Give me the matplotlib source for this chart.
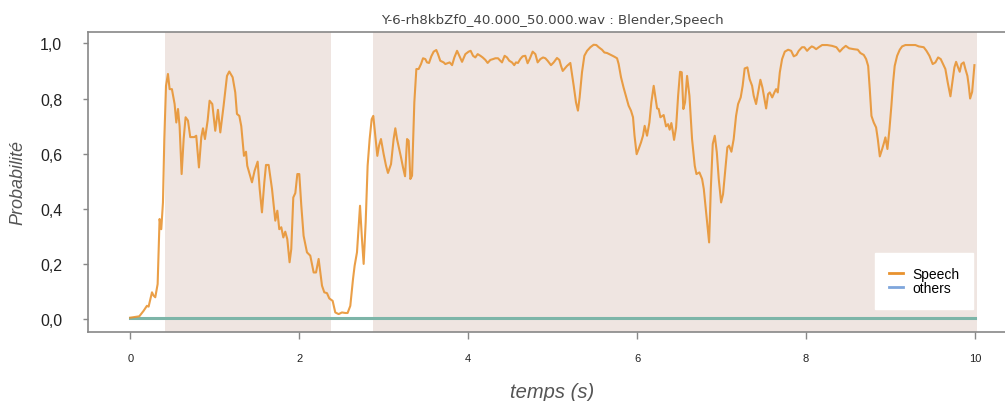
import numpy as np
import matplotlib
matplotlib.use("Agg")
import matplotlib.pyplot as plt
from matplotlib.lines import Line2D
from matplotlib.ticker import FuncFormatter

title = "Y-6-rh8kbZf0_40.000_50.000.wav : Blender,Speech"

# speech probability over time (s)
t_speech = [
    0.0, 0.107, 0.158, 0.197, 0.217, 0.257, 0.276, 0.296, 0.324, 0.347, 0.367, 0.387,
    0.403, 0.423, 0.446, 0.466, 0.493, 0.525, 0.545, 0.565, 0.584, 0.608, 0.632, 0.655,
    0.683, 0.71, 0.758, 0.781, 0.813, 0.841, 0.861, 0.884, 0.916, 0.939, 0.971, 1.006,
    1.038, 1.066, 1.105, 1.145, 1.172, 1.212, 1.243, 1.263, 1.291, 1.314, 1.346, 1.37,
    1.385, 1.413, 1.441, 1.472, 1.508, 1.532, 1.559, 1.587, 1.607, 1.638, 1.678, 1.717,
    1.741, 1.764, 1.788, 1.812, 1.835, 1.859, 1.886, 1.906, 1.93, 1.954, 1.978, 2.001,
    2.025, 2.052, 2.092, 2.131, 2.171, 2.199, 2.23, 2.27, 2.297, 2.329, 2.356, 2.396,
    2.427, 2.467, 2.506, 2.546, 2.573, 2.605, 2.637, 2.656, 2.684, 2.72, 2.743, 2.763,
    2.787, 2.81, 2.834, 2.858, 2.877, 2.901, 2.925, 2.945, 2.968, 3.0, 3.028, 3.051,
    3.087, 3.118, 3.138, 3.158, 3.177, 3.205, 3.229, 3.253, 3.277, 3.296, 3.316, 3.336,
    3.363, 3.387, 3.414, 3.442, 3.466, 3.493, 3.513, 3.537, 3.564, 3.592, 3.623, 3.643,
    3.67, 3.71, 3.73, 3.762, 3.781, 3.81, 3.837, 3.869, 3.896, 3.928, 3.967, 4.006,
    4.03, 4.058, 4.085, 4.113, 4.145, 4.172, 4.204, 4.231, 4.263, 4.295, 4.322, 4.354,
    4.381, 4.401, 4.432, 4.46, 4.487, 4.519, 4.546, 4.566, 4.59, 4.617, 4.645, 4.677,
    4.704, 4.728, 4.764, 4.796, 4.823, 4.855, 4.887, 4.914, 4.941, 4.981, 5.013, 5.052,
    5.08, 5.1, 5.12, 5.14, 5.17, 5.21, 5.25, 5.277, 5.3, 5.32, 5.348, 5.376,
    5.408, 5.447, 5.486, 5.518, 5.546, 5.585, 5.613, 5.645, 5.684, 5.723, 5.763, 5.782,
    5.81, 5.84, 5.873, 5.9, 5.928, 5.952, 5.97, 5.995, 6.019, 6.047, 6.07, 6.09,
    6.118, 6.146, 6.169, 6.197, 6.217, 6.237, 6.256, 6.276, 6.315, 6.343, 6.367, 6.386,
    6.406, 6.422, 6.438, 6.462, 6.486, 6.509, 6.529, 6.548, 6.568, 6.592, 6.62, 6.651,
    6.683, 6.703, 6.738, 6.77, 6.79, 6.81, 6.833, 6.853, 6.873, 6.896, 6.92, 6.944,
    6.967, 6.995, 7.018, 7.046, 7.069, 7.089, 7.117, 7.144, 7.172, 7.196, 7.227, 7.25,
    7.274, 7.306, 7.333, 7.362, 7.381, 7.409, 7.433, 7.46, 7.484, 7.508, 7.528, 7.551,
    7.571, 7.6, 7.626, 7.646, 7.666, 7.69, 7.717, 7.749, 7.789, 7.824, 7.855, 7.887,
    7.914, 7.953, 7.981, 8.013, 8.04, 8.068, 8.091, 8.12, 8.151, 8.191, 8.25, 8.309,
    8.36, 8.4, 8.435, 8.471, 8.511, 8.565, 8.613, 8.644, 8.684, 8.712, 8.736, 8.755,
    8.775, 8.802, 8.83, 8.85, 8.874, 8.902, 8.925, 8.94, 8.964, 8.988, 9.011, 9.031,
    9.05, 9.079, 9.11, 9.138, 9.177, 9.236, 9.295, 9.335, 9.394, 9.426, 9.461, 9.5,
    9.532, 9.564, 9.595, 9.623, 9.65, 9.678, 9.71, 9.737, 9.757, 9.777, 9.8, 9.82,
    9.84, 9.867, 9.887, 9.911, 9.927, 9.943, 9.967, 9.994,
]
p_speech = [
    0.005, 0.01, 0.03, 0.048, 0.045, 0.097, 0.085, 0.079, 0.127, 0.363, 0.326, 0.423,
    0.653, 0.846, 0.889, 0.834, 0.834, 0.78, 0.713, 0.762, 0.70, 0.526, 0.653, 0.732,
    0.72, 0.66, 0.66, 0.665, 0.55, 0.66, 0.692, 0.653, 0.72, 0.792, 0.78, 0.683,
    0.759, 0.677, 0.774, 0.882, 0.898, 0.877, 0.822, 0.744, 0.737, 0.70, 0.592, 0.607,
    0.556, 0.526, 0.496, 0.538, 0.571, 0.472, 0.387, 0.496, 0.559, 0.559, 0.472, 0.357,
    0.393, 0.326, 0.333, 0.296, 0.317, 0.29, 0.206, 0.254, 0.441, 0.457, 0.526, 0.526,
    0.411, 0.302, 0.242, 0.23, 0.169, 0.169, 0.218, 0.121, 0.097, 0.094, 0.075, 0.066,
    0.024, 0.018, 0.024, 0.022, 0.022, 0.048, 0.145, 0.193, 0.242, 0.411, 0.29, 0.20,
    0.351, 0.556, 0.653, 0.725, 0.737, 0.665, 0.592, 0.629, 0.653, 0.598, 0.556, 0.53,
    0.562, 0.653, 0.692, 0.653, 0.626, 0.587, 0.55, 0.518, 0.653, 0.647, 0.508, 0.52,
    0.786, 0.907, 0.907, 0.925, 0.946, 0.943, 0.931, 0.929, 0.953, 0.97, 0.976, 0.961,
    0.937, 0.931, 0.925, 0.929, 0.931, 0.921, 0.949, 0.973, 0.955, 0.933, 0.961, 0.97,
    0.973, 0.955, 0.949, 0.961, 0.955, 0.949, 0.94, 0.929, 0.94, 0.943, 0.946, 0.946,
    0.937, 0.931, 0.955, 0.949, 0.937, 0.931, 0.921, 0.931, 0.929, 0.943, 0.953, 0.955,
    0.928, 0.943, 0.97, 0.961, 0.931, 0.943, 0.949, 0.946, 0.937, 0.921, 0.931, 0.947,
    0.94, 0.918, 0.90, 0.907, 0.918, 0.929, 0.846, 0.786, 0.756, 0.804, 0.895, 0.955,
    0.973, 0.986, 0.995, 0.994, 0.986, 0.977, 0.967, 0.965, 0.959, 0.953, 0.946, 0.925,
    0.877, 0.84, 0.804, 0.774, 0.756, 0.732, 0.665, 0.598, 0.617, 0.641, 0.665, 0.701,
    0.665, 0.713, 0.786, 0.846, 0.804, 0.764, 0.762, 0.732, 0.74, 0.699, 0.707, 0.687,
    0.711, 0.683, 0.65, 0.695, 0.81, 0.897, 0.895, 0.762, 0.786, 0.882, 0.81, 0.653,
    0.556, 0.526, 0.532, 0.508, 0.472, 0.411, 0.338, 0.278, 0.472, 0.635, 0.665, 0.605,
    0.508, 0.423, 0.453, 0.544, 0.623, 0.629, 0.607, 0.653, 0.737, 0.78, 0.804, 0.846,
    0.909, 0.913, 0.87, 0.846, 0.81, 0.78, 0.822, 0.868, 0.84, 0.798, 0.764, 0.816,
    0.822, 0.804, 0.822, 0.834, 0.822, 0.895, 0.943, 0.97, 0.977, 0.973, 0.953, 0.958,
    0.973, 0.986, 0.986, 0.973, 0.982, 0.989, 0.986, 0.979, 0.986, 0.994, 0.994, 0.991,
    0.986, 0.97, 0.982, 0.991, 0.982, 0.979, 0.977, 0.965, 0.958, 0.943, 0.918, 0.834,
    0.737, 0.713, 0.695, 0.653, 0.59, 0.617, 0.641, 0.659, 0.617, 0.689, 0.774, 0.858,
    0.918, 0.955, 0.977, 0.989, 0.994, 0.994, 0.994, 0.989, 0.986, 0.973, 0.955, 0.925,
    0.931, 0.949, 0.943, 0.925, 0.907, 0.858, 0.808, 0.87, 0.913, 0.933, 0.913, 0.897,
    0.925, 0.931, 0.907, 0.882, 0.846, 0.80, 0.824, 0.921,
]

# every other class stays flat near zero
t_others = [0.0, 10.0]
p_others = [0.005, 0.005]

# detected speech segments (start, end) in seconds
segments = [(0.41, 2.38), (2.87, 10.02)]

speech_col = "#e8922e"
others_col = "#7fa6dc"
others_line = "#7db5a8"
span_col = "#efe5e1"
grey = "#888888"

plt.rcParams["font.family"] = ["Liberation Sans", "DejaVu Sans"]

fig = plt.figure(figsize=(10.05, 4.02), dpi=100)
# the axes run past the right edge of the figure
ax = fig.add_axes([0.0876, 0.1716, 0.9245, 0.7475])

for start, end in segments:
    ax.axvspan(start, end, color=span_col, lw=0, zorder=0)

ax.plot(t_speech, p_speech, color=speech_col, lw=1.5, alpha=0.88, zorder=3)
ax.plot(t_others, p_others, color=others_line, lw=2.2, zorder=2)

ax.set_xlim(-0.5, 10.5)
ax.set_ylim(-0.047, 1.043)
ax.set_xticks([0, 2, 4, 6, 8, 10])
ax.set_yticks([0, 0.2, 0.4, 0.6, 0.8, 1.0])
ax.yaxis.set_major_formatter(FuncFormatter(lambda v, _: f"{v:.1f}".replace(".", ",")))

for side in ["left", "top", "bottom"]:
    ax.spines[side].set_color(grey)
    ax.spines[side].set_linewidth(1.2)
ax.spines["right"].set_visible(False)
ax.tick_params(axis="x", colors=grey, length=5, width=1, labelsize=8,
               labelcolor="#222222", pad=10)
ax.tick_params(axis="y", colors=grey, length=3.5, width=1, labelsize=11.5,
               labelcolor="#222222", pad=15)

ax.set_title(title, fontsize=9.6, color="#444444", family="DejaVu Sans", pad=6)
ax.set_ylabel("Probabilité", fontsize=13, style="italic", color="#555555", labelpad=10)
ax.set_xlabel("temps (s)", fontsize=14.5, style="italic", color="#555555", labelpad=14)

handles = [Line2D([], [], color=speech_col, lw=2),
           Line2D([], [], color=others_col, lw=2)]
leg = ax.legend(handles, ["Speech", "others"], loc="lower right",
                bbox_to_anchor=(0.9527, 0.076), borderaxespad=0, fontsize=10,
                handlelength=1.0, frameon=True, fancybox=False, borderpad=1.0,
                labelspacing=0.0, handletextpad=0.65)
leg.get_frame().set_edgecolor("white")
leg.get_frame().set_facecolor("white")
leg.get_frame().set_alpha(1)

fig.savefig("out.png", dpi=100)
